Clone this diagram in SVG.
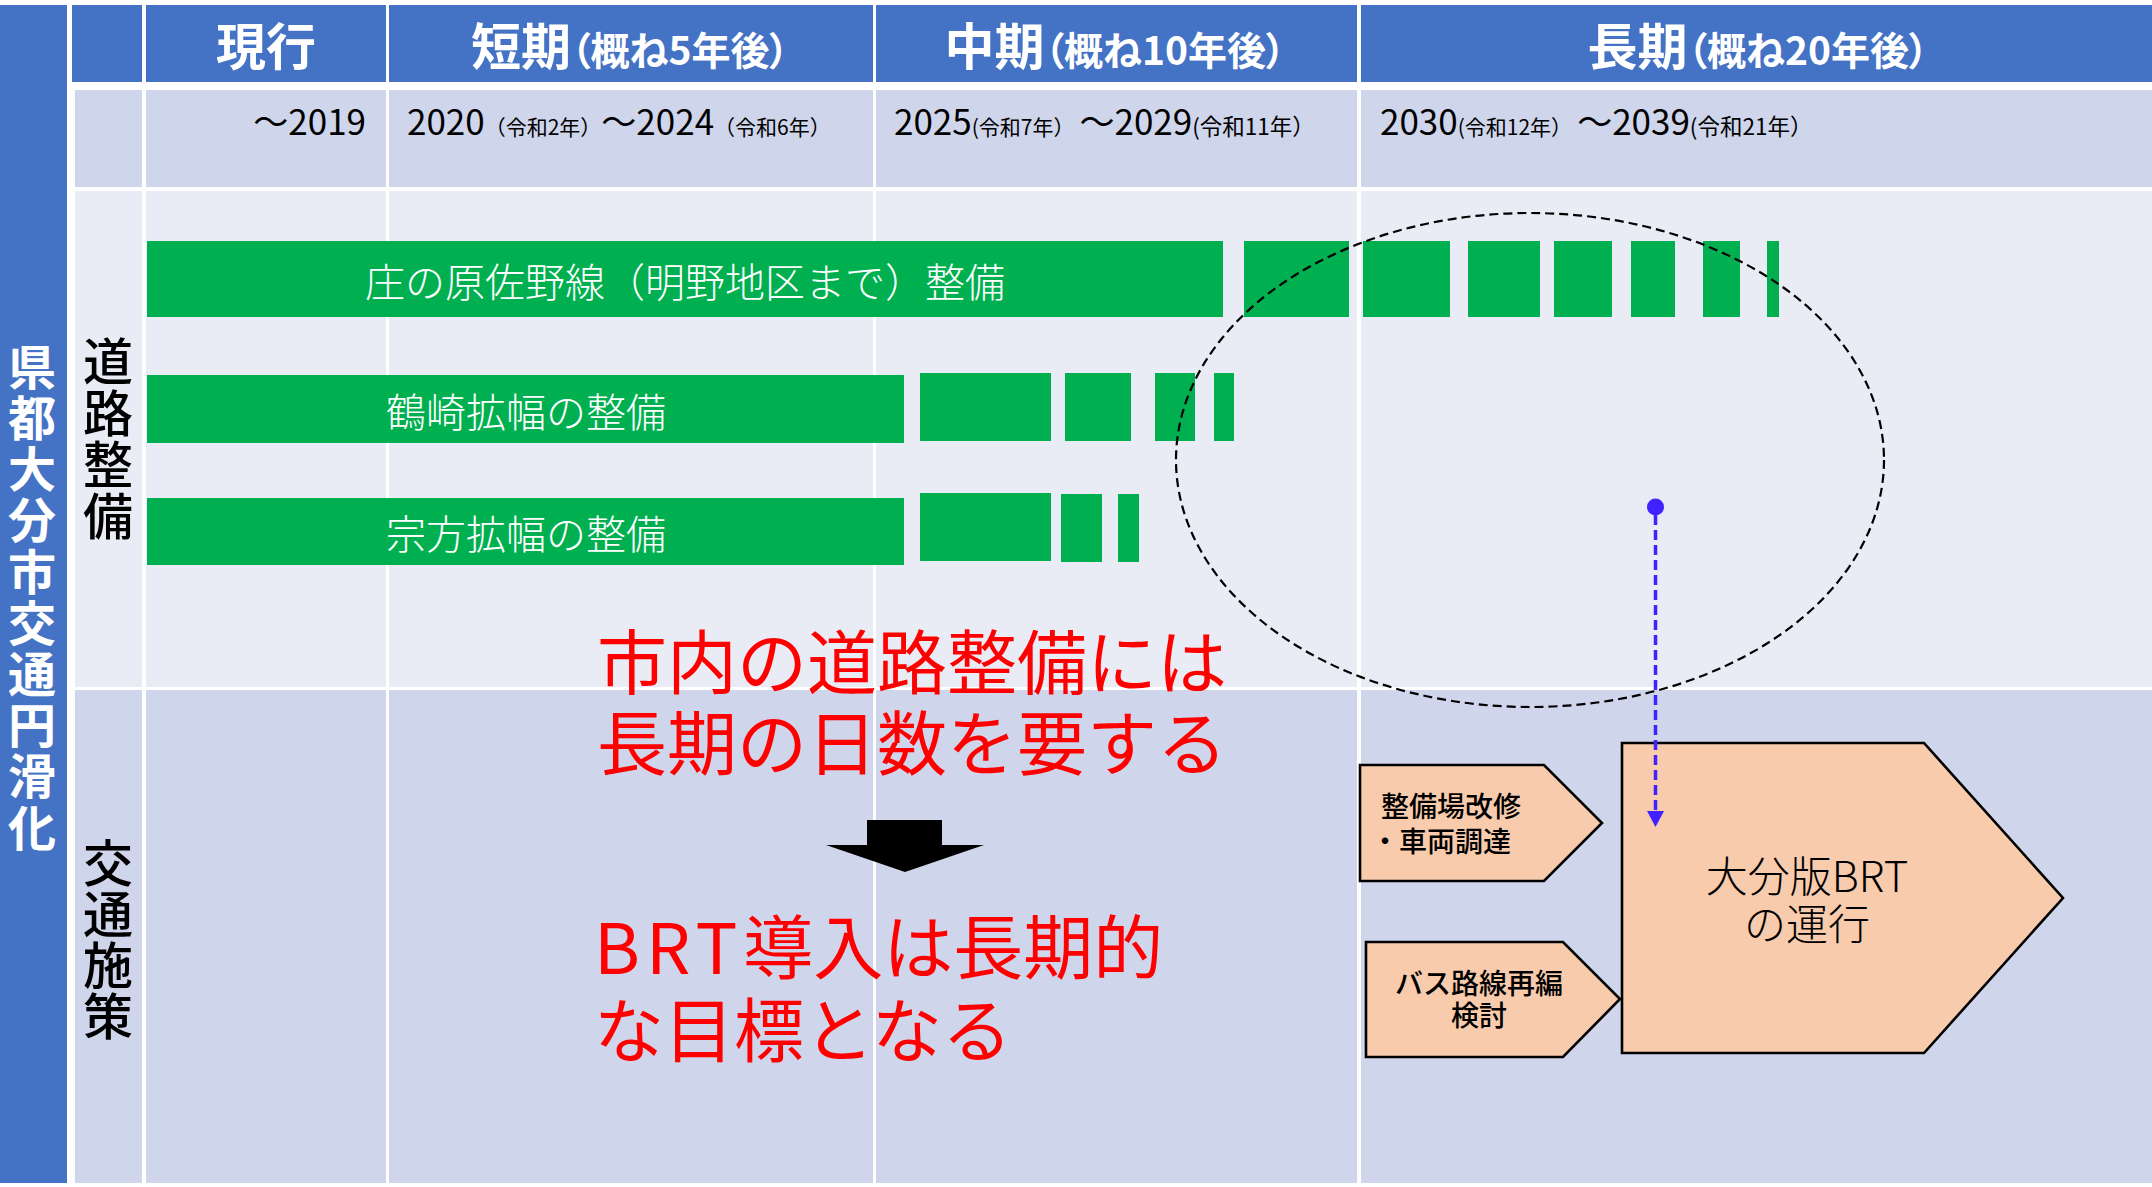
<svg xmlns="http://www.w3.org/2000/svg" width="2152" height="1187" viewBox="0 0 2152 1187">
<defs>
<style>
text{font-family:"Noto Sans CJK JP","Noto Sans",sans-serif;}
.hdr{fill:#4472C4;}
.rowA{fill:#CFD5EA;}
.rowB{fill:#E9EBF5;}
.vline{fill:#FFFFFF;}
.htxt{fill:#FFFFFF;font-weight:700;text-anchor:middle;}
.vert{writing-mode:vertical-rl;text-anchor:start;}
.band{fill:#FFFFFF;font-weight:700;font-size:48px;letter-spacing:3.2px;}
.lbl{fill:#000000;font-weight:500;font-size:50px;}
.date{fill:#000000;font-size:35px;font-weight:400;}
.sm{font-size:21px;}
.sm2{font-size:22.5px;}
.bar{fill:#00B050;}
.btxt{fill:#FFFFFF;font-size:40px;font-weight:300;text-anchor:middle;}
.red{fill:#FF0000;font-size:70px;font-weight:400;}
.pent{fill:#F8CBAD;stroke:#000000;stroke-width:2.6;stroke-linejoin:miter;}
.ptxt{fill:#000000;font-size:28px;font-weight:500;}
.brt{fill:#000000;font-size:42px;font-weight:300;text-anchor:middle;}
.palt{font-feature-settings:"palt";}
</style>
<marker id="bluehead" viewBox="0 0 16 17" refX="0" refY="8.5" markerWidth="16" markerHeight="17" markerUnits="userSpaceOnUse" orient="auto">
<path d="M0,0 L16,8.5 L0,17 z" fill="#3F22FF"/>
</marker>
</defs>
<rect x="0" y="0" width="2152" height="1187" fill="#FFFFFF"/>

<g id="table">
<rect x="0" y="5" width="67" height="1178" class="hdr"/>
<rect x="72" y="5" width="2080" height="77" class="hdr"/>
<rect x="75" y="90" width="2077" height="97" class="rowA"/>
<rect x="75" y="191" width="2077" height="496" class="rowB"/>
<rect x="75" y="690" width="2077" height="493" class="rowA"/>
<rect x="142" y="5" width="4" height="1178" class="vline"/>
<rect x="386" y="5" width="3" height="1178" class="vline"/>
<rect x="873" y="5" width="3" height="1178" class="vline"/>
<rect x="1357" y="5" width="4" height="1178" class="vline"/>
</g>

<g id="header">
<text x="266" y="65" class="htxt" font-size="50">現行</text>
<text x="630" y="65" class="htxt" font-size="50">短期<tspan font-size="39" class="palt">（</tspan><tspan font-size="39">概ね5年後</tspan><tspan font-size="39" class="palt">）</tspan></text>
<text x="1115" y="65" class="htxt" font-size="50">中期<tspan font-size="39" class="palt">（</tspan><tspan font-size="39">概ね10年後</tspan><tspan font-size="39" class="palt">）</tspan></text>
<text x="1758" y="65" class="htxt" font-size="50">長期<tspan font-size="39" class="palt">（</tspan><tspan font-size="39">概ね20年後</tspan><tspan font-size="39" class="palt">）</tspan></text>
</g>

<g id="dates">
<text x="366" y="135" class="date" text-anchor="end">～2019</text>
<text x="407" y="135" class="date">2020<tspan class="sm">（令和2年）</tspan>～2024<tspan class="sm">（令和6年）</tspan></text>
<text x="894" y="135" class="date">2025<tspan class="sm">(令和7年）</tspan><tspan dx="5">～2029</tspan><tspan class="sm2">(令和11年）</tspan></text>
<text x="1380" y="135" class="date">2030<tspan class="sm">(令和12年）</tspan><tspan dx="5">～2039</tspan><tspan class="sm2">(令和21年）</tspan></text>
</g>

<g id="side-title">
<text x="32" y="342.5" class="band vert">県都大分市交通円滑化</text>
</g>

<g id="label-road">
<text x="108" y="336" class="lbl vert" style="letter-spacing:1.5px">道路整備</text>
</g>
<g id="label-transport">
<text x="108" y="837.5" class="lbl vert" style="letter-spacing:1px">交通施策</text>
</g>

<g id="bar-shonoharu">
<rect x="147" y="241" width="1076" height="76" class="bar"/>
<rect x="1244" y="241" width="105" height="76" class="bar"/>
<rect x="1363" y="241" width="87" height="76" class="bar"/>
<rect x="1468" y="241" width="72" height="76" class="bar"/>
<rect x="1554" y="241" width="58" height="76" class="bar"/>
<rect x="1631" y="241" width="44" height="76" class="bar"/>
<rect x="1703" y="241" width="37" height="76" class="bar"/>
<rect x="1767" y="241" width="12" height="76" class="bar"/>
<text x="685" y="297" class="btxt">庄の原佐野線（明野地区まで）整備</text>
</g>

<g id="bar-tsurusaki">
<rect x="147" y="375" width="757" height="68" class="bar"/>
<rect x="920" y="373" width="131" height="68" class="bar"/>
<rect x="1065" y="373" width="66" height="68" class="bar"/>
<rect x="1155" y="373" width="40" height="68" class="bar"/>
<rect x="1214" y="373" width="20" height="68" class="bar"/>
<text x="526" y="427" class="btxt">鶴崎拡幅の整備</text>
</g>

<g id="bar-munakata">
<rect x="147" y="498" width="757" height="67" class="bar"/>
<rect x="920" y="493" width="131" height="68" class="bar"/>
<rect x="1061" y="494" width="41" height="68" class="bar"/>
<rect x="1118" y="494" width="21" height="68" class="bar"/>
<text x="526" y="549" class="btxt">宗方拡幅の整備</text>
</g>

<g id="ellipse-longterm">
<ellipse cx="1530" cy="460" rx="354" ry="247" fill="none" stroke="#000000" stroke-width="2.2" stroke-dasharray="9 5"/>
</g>

<g id="message">
<text class="red"><tspan x="597" y="689">市内の道路整備には</tspan><tspan x="597" y="770">長期の日数を要する</tspan></text>
<polygon points="867,820 942,820 942,845 984,845 905,872 826,845 867,845" fill="#000000"/>
<text class="red"><tspan x="594" y="974" style="letter-spacing:6px">BRT</tspan><tspan>導入は長期的</tspan><tspan x="594" y="1057">な目標となる</tspan></text>
</g>

<g id="node-depot">
<polygon points="1360,765 1544,765 1602,823 1544,881 1360,881" class="pent"/>
<text class="ptxt"><tspan x="1381" y="817">整備場改修</tspan><tspan x="1371" y="852">・車両調達</tspan></text>
</g>

<g id="node-bus">
<polygon points="1366,942 1563,942 1620,999 1563,1057 1366,1057" class="pent"/>
<text class="ptxt" text-anchor="middle"><tspan x="1479" y="994">バス路線再編</tspan><tspan x="1479" y="1026">検討</tspan></text>
</g>

<g id="node-brt">
<polygon points="1622,743 1924,743 2063,898 1924,1053 1622,1053" class="pent"/>
<text class="brt"><tspan x="1807" y="892">大分版BRT</tspan><tspan x="1807" y="940">の運行</tspan></text>
</g>

<g id="connectors">
<circle cx="1655.5" cy="507" r="8.5" fill="#3F22FF"/>
<line x1="1655.5" y1="515" x2="1655.5" y2="811" stroke="#3F22FF" stroke-width="3.5" stroke-dasharray="10 5" marker-end="url(#bluehead)"/>
</g>
</svg>
